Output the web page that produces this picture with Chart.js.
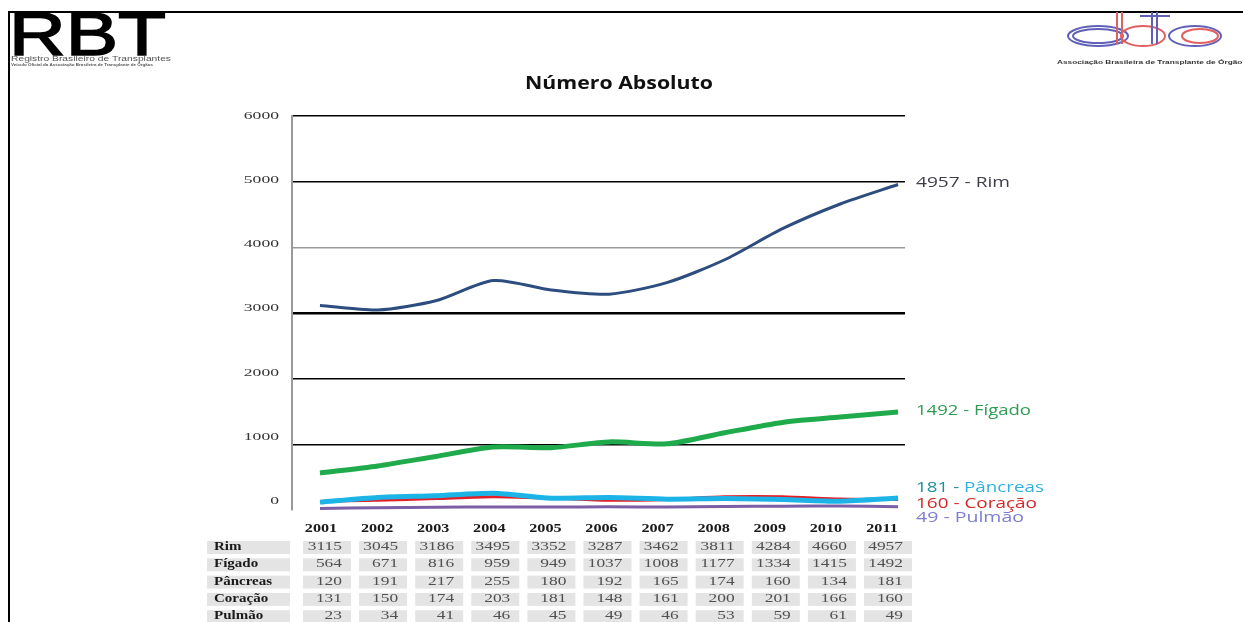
<!DOCTYPE html>
<html>
<head>
<meta charset="utf-8">
<script src="https://cdn.jsdelivr.net/npm/chart.js@4/dist/chart.umd.min.js"></script>
<style>
  body { margin: 0; background: #fff; }
  canvas { display: block; }
</style>
</head>
<body>
<canvas id="chart" width="1243" height="622"></canvas>
<script>
var years = [2001, 2002, 2003, 2004, 2005, 2006, 2007, 2008, 2009, 2010, 2011]
var rim = [3115, 3045, 3186, 3495, 3352, 3287, 3462, 3811, 4284, 4660, 4957]
var figado = [564, 671, 816, 959, 949, 1037, 1008, 1177, 1334, 1415, 1492]
var pancreas = [120, 191, 217, 255, 180, 192, 165, 174, 160, 134, 181]
var coracao = [131, 150, 174, 203, 181, 148, 161, 200, 201, 166, 160]
var pulmao = [23, 34, 41, 46, 45, 49, 46, 53, 59, 61, 49]
var rowNames = ["Rim", "Fígado", "Pâncreas", "Coração", "Pulmão"]
var yTicks = [0, 1000, 2000, 3000, 4000, 5000, 6000]

function pts(arr) {
    return arr.map(function (v, i) { return { x: years[i], y: v } })
}

// escreve texto esticado na horizontal ate a largura pedida
function fitText(ctx, text, x, y, w) {
    var m = ctx.measureText(text).width
    ctx.save()
    ctx.translate(x, y)
    ctx.scale(w / m, 1)
    ctx.fillText(text, 0, 0)
    ctx.restore()
}

// texto com escala horizontal fixa (a imagem original esta esticada)
function wideText(ctx, text, x, y, sx) {
    ctx.save()
    ctx.translate(x, y)
    ctx.scale(sx, 1)
    ctx.fillText(text, 0, 0)
    ctx.restore()
}

var decor = {
    id: "decor",
    afterDraw: function (chart) {
        var ctx = chart.ctx
        var ys = chart.scales.y
        ctx.save()

        // moldura
        ctx.strokeStyle = "#000"
        ctx.lineWidth = 2
        ctx.beginPath()
        ctx.moveTo(9, 622); ctx.lineTo(9, 12); ctx.lineTo(1243, 12)
        ctx.stroke()

        // logo RBT
        ctx.fillStyle = "#000"
        ctx.textBaseline = "alphabetic"
        ctx.textAlign = "left"
        ctx.font = "61px 'Liberation Sans'"
        ctx.strokeStyle = "#000"
        ctx.lineWidth = 1.5
        ctx.save()
        ctx.translate(9, 55)
        ctx.scale(157 / ctx.measureText("RBT").width, 1)
        ctx.fillText("RBT", 0, 0)
        ctx.strokeText("RBT", 0, 0)
        ctx.restore()
        ctx.fillStyle = "#555"
        ctx.font = "8px 'Liberation Sans'"
        fitText(ctx, "Registro Brasileiro de Transplantes", 11, 61, 160)
        ctx.font = "bold 4px 'Liberation Sans'"
        fitText(ctx, "Veículo Oficial da Associação Brasileira de Transplante de Órgãos", 11, 66, 142)

        // logo ABTO
        ctx.lineWidth = 2
        ctx.strokeStyle = "#6060b8"
        ctx.beginPath(); ctx.ellipse(1098, 36, 30, 10, 0, 0, Math.PI * 2); ctx.stroke()
        ctx.beginPath(); ctx.ellipse(1098, 36, 25, 7, 0, 0, Math.PI * 2); ctx.stroke()
        ctx.strokeStyle = "#e06060"
        ctx.beginPath(); ctx.moveTo(1117, 12); ctx.lineTo(1117, 44); ctx.stroke()
        ctx.beginPath(); ctx.moveTo(1122, 12); ctx.lineTo(1122, 44); ctx.stroke()
        ctx.beginPath(); ctx.ellipse(1143, 36, 22, 10, 0, 0, Math.PI * 2); ctx.stroke()
        ctx.strokeStyle = "#6060b8"
        ctx.beginPath(); ctx.moveTo(1152, 12); ctx.lineTo(1152, 44); ctx.stroke()
        ctx.beginPath(); ctx.moveTo(1157, 12); ctx.lineTo(1157, 44); ctx.stroke()
        ctx.beginPath(); ctx.moveTo(1140, 16); ctx.lineTo(1170, 16); ctx.stroke()
        ctx.beginPath(); ctx.ellipse(1195, 36, 26, 10, 0, 0, Math.PI * 2); ctx.stroke()
        ctx.strokeStyle = "#e06060"
        ctx.beginPath(); ctx.ellipse(1200, 36, 18, 7, 0, 0, Math.PI * 2); ctx.stroke()
        ctx.fillStyle = "#333"
        ctx.font = "bold 6px 'Liberation Sans'"
        fitText(ctx, "Associação Brasileira de Transplante de Órgãos", 1057, 64, 190)

        // titulo
        ctx.fillStyle = "#111"
        ctx.font = "bold 17px 'Open Sans'"
        fitText(ctx, "Número Absoluto", 525, 89, 188)

        // rotulos do eixo y, a partir da escala
        ctx.textBaseline = "middle"
        ctx.textAlign = "right"
        ctx.fillStyle = "#333"
        ctx.font = "11px 'Liberation Serif'"
        ys.ticks.forEach(function (t) {
            var drift = -(6000 - t.value) / 6000 * 9
            wideText(ctx, String(t.value), 279, ys.getPixelForValue(t.value) + drift, 1.6)
        })

        // rotulos a direita das linhas
        var last = years.length - 1
        ctx.textAlign = "left"
        ctx.font = "15px 'Open Sans'"
        ctx.fillStyle = "#3c3c4c"
        fitText(ctx, rim[last] + " - Rim", 916, ys.getPixelForValue(rim[last]) - 2, 94)
        ctx.fillStyle = "#2e9c52"
        fitText(ctx, figado[last] + " - Fígado", 916, ys.getPixelForValue(figado[last]) - 1, 115)
        var yp = ys.getPixelForValue(pancreas[last]) - 10
        var pre = pancreas[last] + " - "
        var sx = 128 / ctx.measureText(pre + "Pâncreas").width
        ctx.save()
        ctx.translate(916, yp)
        ctx.scale(sx, 1)
        ctx.fillStyle = "#1b8f9e"
        ctx.fillText(pre, 0, 0)
        ctx.fillStyle = "#2fb2da"
        ctx.fillText("Pâncreas", ctx.measureText(pre).width, 0)
        ctx.restore()
        ctx.fillStyle = "#d42828"
        fitText(ctx, coracao[last] + " - Coração", 916, ys.getPixelForValue(coracao[last]) + 4, 121)
        ctx.fillStyle = "#7c7cd4"
        fitText(ctx, pulmao[last] + " - Pulmão", 916, ys.getPixelForValue(pulmao[last]) + 11, 108)

        // tabela
        var rows = [rim, figado, pancreas, coracao, pulmao]
        var col0 = 321, colW = 56.1, rowH = 17.3, headY = 529, row0 = 547
        ctx.font = "bold 12px 'Liberation Serif'"
        ctx.fillStyle = "#1a1a1a"
        ctx.textAlign = "center"
        for (var i = 0; i < years.length; i++) {
            wideText(ctx, String(years[i]), col0 + colW * i, headY, 1.35)
        }
        for (var r = 0; r < rows.length; r++) {
            var yy = row0 + rowH * r
            ctx.fillStyle = "#e4e4e4"
            ctx.fillRect(207, yy - 6, 83, 13)
            for (var i = 0; i < years.length; i++) {
                ctx.fillRect(col0 + colW * i - 18, yy - 6, 48, 13)
            }
            ctx.textAlign = "left"
            ctx.fillStyle = "#1a1a1a"
            ctx.font = "bold 12px 'Liberation Serif'"
            wideText(ctx, rowNames[r], 214, yy, 1.25)
            ctx.textAlign = "right"
            ctx.fillStyle = "#505050"
            ctx.font = "12px 'Liberation Serif'"
            for (var i = 0; i < years.length; i++) {
                wideText(ctx, String(rows[r][i]), col0 + colW * i + 21, yy, 1.45)
            }
        }
        ctx.restore()
    }
}

function line(label, arr, color, w) {
    return {
        label: label,
        data: pts(arr),
        borderColor: color,
        borderWidth: w,
        pointRadius: 0,
        tension: 0.25,
        clip: false
    }
}

new Chart("chart", {
    type: "line",
    data: {
        datasets: [
            line("Rim", rim, "#2c4d7e", 3),
            line("Fígado", figado, "#1fab4c", 5),
            line("Pâncreas", pancreas, "#1cb4e6", 5),
            line("Coração", coracao, "#e21f26", 3),
            line("Pulmão", pulmao, "#7b5ea6", 3)
        ]
    },
    options: {
        responsive: false,
        animation: false,
        layout: { padding: { left: 200, right: 338, top: 116, bottom: 112 } },
        plugins: { legend: { display: false }, tooltip: { enabled: false } },
        scales: {
            x: {
                type: "linear",
                display: false,
                min: 2000.516,
                max: 2011.12
            },
            y: {
                min: 0,
                max: 6000,
                afterFit: function (s) { s.width = 92 },
                afterBuildTicks: function (s) {
                    s.ticks = yTicks.map(function (v) { return { value: v } })
                },
                border: { display: true, color: "#9a9a9a", width: 2 },
                grid: {
                    drawTicks: false,
                    color: function (c) {
                        if (c.tick.value === 0) return "rgba(0,0,0,0)"
                        if (c.tick.value === 4000) return "#9a9a9a"
                        return "#000"
                    },
                    lineWidth: function (c) { return c.tick.value === 3000 ? 2.5 : 1.6 }
                },
                ticks: { display: false }
            }
        }
    },
    plugins: [decor]
})
</script>
</body>
</html>
